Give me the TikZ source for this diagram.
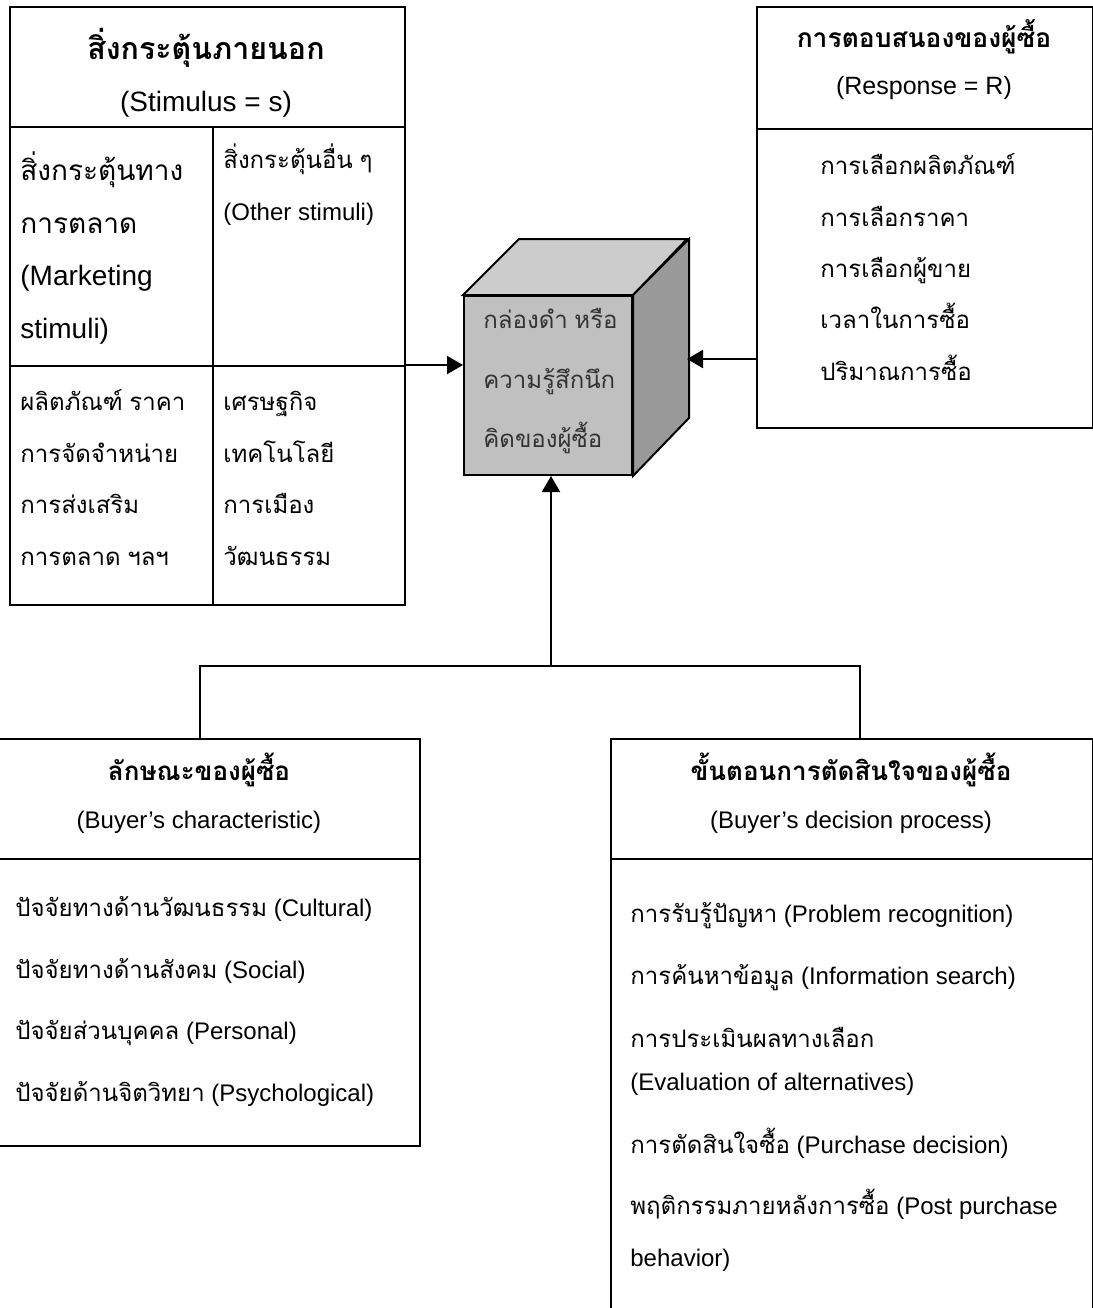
\documentclass[tikz,border=0pt]{standalone}
\usepackage{fontspec}
\setmainfont{Liberation Sans}
\newfontfamily\thaifont[Script=Thai]{Loma}
\usetikzlibrary{arrows.meta,positioning}
\definecolor{frontgray}{HTML}{C0C0C0}
\definecolor{topgray}{HTML}{CCCCCC}
\definecolor{sidegray}{HTML}{999999}
\definecolor{cubetext}{HTML}{333333}
% Thai letters are set in Loma, the rest in Liberation Sans
\XeTeXinterchartokenstate=1
\newXeTeXintercharclass\thaiclass
\newcount\thaicode
\thaicode="0E00
\loop
  \XeTeXcharclass\thaicode=\thaiclass
  \advance\thaicode by 1
\ifnum\thaicode<"0E80 \repeat
\XeTeXinterchartoks 0 \thaiclass = {\thaifont}
\XeTeXinterchartoks 4095 \thaiclass = {\thaifont}
\XeTeXinterchartoks \thaiclass 0 = {\rmfamily}
\XeTeXinterchartoks \thaiclass 4095 = {\rmfamily}
\begin{document}
\begin{tikzpicture}[x=0.5pt,y=-0.5pt,
box/.style={
% The frame:
rectangle,
draw=black,
line width=1pt,
anchor=north west,
inner sep=0pt
},
item/.style={anchor=base west,inner sep=0pt,font=\fontsize{12}{14}\selectfont},
bigitem/.style={item,font=\fontsize{14}{16}\selectfont},
headline/.style={anchor=base,inner sep=0pt,font=\fontsize{12}{14}\selectfont},
headtitle/.style={headline,font=\bfseries\fontsize{13}{15}\selectfont},
arr/.style={-{Triangle[length=8pt,width=9pt]},line width=1pt},
link/.style={line width=1pt}
]
\useasboundingbox (0,0) rectangle (1093,1308);
% External stimuli:
\node (stimhead) [box,minimum width=197.5pt,minimum height=60pt] at (9,6) {};
\node (mktcell) [box,minimum width=101.5pt,minimum height=119.5pt] at (9,126) {};
\node (othcell) [box,minimum width=96pt,minimum height=119.5pt] at (212,126) {};
\node (mixcell) [box,minimum width=101.5pt,minimum height=119.5pt] at (9,365) {};
\node (envcell) [box,minimum width=96pt,minimum height=119.5pt] at (212,365) {};
\node (stimtitle) [headtitle,font=\bfseries\fontsize{15.2}{17}\selectfont] at (206,59) {สิ่งกระตุ้นภายนอก};
\node (stimsub) [headline,font=\fontsize{14}{16}\selectfont] at (206,111) {(Stimulus = s)};
\foreach \yy/\txt [count=\i] in {180/สิ่งกระตุ้นทาง,233/การตลาด,285/(Marketing,338/stimuli)}
  \node (mkt\i) [bigitem] at (20,\yy) {\txt};
\foreach \yy/\txt [count=\i] in {168/สิ่งกระตุ้นอื่น ๆ,220/(Other stimuli)}
  \node (oth\i) [item] at (223,\yy) {\txt};
\foreach \yy/\txt [count=\i] in {410/ผลิตภัณฑ์ ราคา,462/การจัดจำหน่าย,513/การส่งเสริม,565/การตลาด ฯลฯ}
  \node (mix\i) [item] at (20,\yy) {\txt};
\foreach \yy/\txt [count=\i] in {410/เศรษฐกิจ,462/เทคโนโลยี,513/การเมือง,565/วัฒนธรรม}
  \node (env\i) [item] at (223,\yy) {\txt};
% Black box:
\node (cube) [box,fill=frontgray,minimum width=84pt,minimum height=89.5pt] at (463,295) {};
\draw[link,fill=topgray] (cube.north west) -- ++(28pt,28pt) -- ++(84pt,0pt) -- (cube.north east) -- cycle;
\draw[link,fill=sidegray] (cube.north east) -- ++(28pt,28pt) -- ++(0pt,-89.5pt) -- (cube.south east) -- cycle;
\foreach \yy/\txt [count=\i] in {328/กล่องดำ หรือ,388/ความรู้สึกนึก,447/คิดของผู้ซื้อ}
  \node (box\i) [item,text=cubetext] at (483,\yy) {\txt};
% Response:
\node (resphead) [box,minimum width=168pt,minimum height=61pt] at (756,6) {};
\node (respbody) [box,minimum width=168pt,minimum height=149.5pt] at (756,128) {};
\node (resptitle) [headtitle,font=\bfseries\fontsize{13.2}{15}\selectfont] at (924,47) {การตอบสนองของผู้ซื้อ};
\node (respsub) [headline,font=\fontsize{12.5}{14}\selectfont] at (924,94) {(Response = R)};
\foreach \yy/\txt [count=\i] in {174/การเลือกผลิตภัณฑ์,226/การเลือกราคา,277/การเลือกผู้ขาย,328/เวลาในการซื้อ,380/ปริมาณการซื้อ}
  \node (resp\i) [item] at (820,\yy) {\txt};
% Buyer's characteristic:
\node (charhead) [box,minimum width=220pt,minimum height=60pt] at (-21,738) {};
\node (charbody) [box,minimum width=220pt,minimum height=143.5pt] at (-21,858) {};
\node (chartitle) [headtitle] at (199,780) {ลักษณะของผู้ซื้อ};
\node (charsub) [headline] at (199,828) {(Buyer’s characteristic)};
\foreach \yy/\txt [count=\i] in {916/ปัจจัยทางด้านวัฒนธรรม (Cultural),978/ปัจจัยทางด้านสังคม (Social),1039/ปัจจัยส่วนบุคคล (Personal),1101/ปัจจัยด้านจิตวิทยา (Psychological)}
  \node (char\i) [item] at (15,\yy) {\txt};
% Buyer's decision process:
\node (dechead) [box,minimum width=241pt,minimum height=60pt] at (610,738) {};
\node (decbody) [box,minimum width=241pt,minimum height=241pt] at (610,858) {};
\node (dectitle) [headtitle] at (851,780) {ขั้นตอนการตัดสินใจของผู้ซื้อ};
\node (decsub) [headline] at (851,828) {(Buyer’s decision process)};
\foreach \yy/\txt [count=\i] in {922/การรับรู้ปัญหา (Problem recognition),984/การค้นหาข้อมูล (Information search),1047/การประเมินผลทางเลือก,1090/(Evaluation of alternatives),1153/การตัดสินใจซื้อ (Purchase decision),1214/พฤติกรรมภายหลังการซื้อ (Post purchase,1266/behavior)}
  \node (dec\i) [item] at (630,\yy) {\txt};
% Connectors:
\coordinate (join) at (551,666);
\coordinate (rtip) at (687,359);
\draw[link] (charhead.north) |- (join) -| ([xshift=4pt]dechead.north);
\draw[arr] (join) -- (join |- cube.south);
\draw[arr] (envcell.north east) -- (envcell.north east -| cube.west);
\draw[arr] (rtip -| respbody.west) -- (rtip);
\end{tikzpicture}
\end{document}
